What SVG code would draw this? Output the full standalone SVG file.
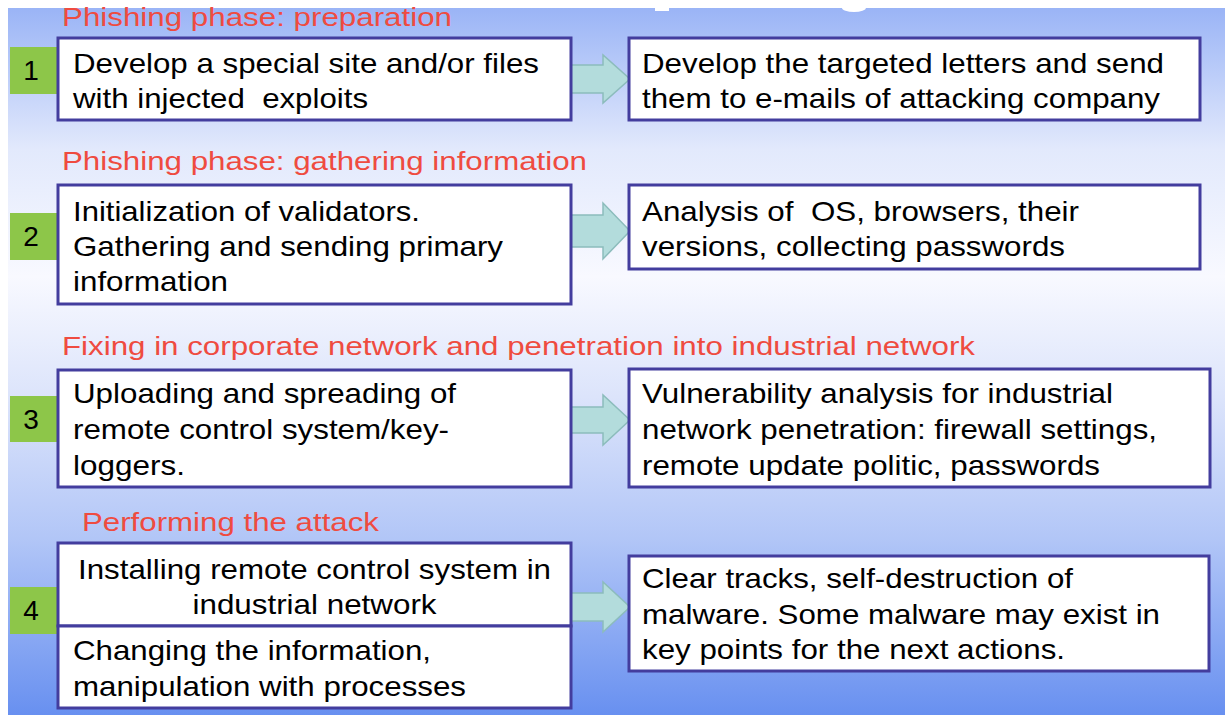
<svg xmlns="http://www.w3.org/2000/svg" width="1225" height="715" viewBox="0 0 1225 715">
<defs>
<linearGradient id="bg" x1="0" y1="0" x2="0" y2="1">
<stop offset="0" stop-color="#9ab4f6"/>
<stop offset="0.2" stop-color="#e2e9fc"/>
<stop offset="0.38" stop-color="#f8f9ff"/>
<stop offset="0.55" stop-color="#dce4fb"/>
<stop offset="0.75" stop-color="#b2c6f7"/>
<stop offset="1" stop-color="#6890f0"/>
</linearGradient>
<style>
.box{fill:#ffffff;stroke:#433d9e;stroke-width:3}
.num{fill:#8dc649}
.numt{font-family:"Liberation Sans",Arial,sans-serif;font-size:28px;fill:#000;text-anchor:middle}
.t{font-family:"Liberation Sans",Arial,sans-serif;font-size:28px;fill:#000}
.h{font-family:"Liberation Sans",Arial,sans-serif;font-size:25px;fill:#ef4b40}
.arr{fill:#b3dcdc;stroke:#8cbcbc;stroke-width:1.5}
</style>
</defs>
<rect x="0" y="0" width="1225" height="715" fill="#ffffff"/>
<rect x="8" y="8" width="1217" height="707" fill="url(#bg)"/>
<rect x="655" y="8" width="14" height="3" fill="#ffffff"/>
<ellipse cx="854" cy="8" rx="12" ry="4" fill="#ffffff"/>

<g id="headers">
<text class="h" x="62" y="26" textLength="390" lengthAdjust="spacingAndGlyphs">Phishing phase: preparation</text>
<text class="h" x="62" y="170" textLength="525" lengthAdjust="spacingAndGlyphs">Phishing phase: gathering information</text>
<text class="h" x="62" y="355" textLength="913" lengthAdjust="spacingAndGlyphs">Fixing in corporate network and penetration into industrial network</text>
<text class="h" x="82" y="531" textLength="297" lengthAdjust="spacingAndGlyphs">Performing the attack</text>
</g>

<g id="connectors">
<path class="arr" d="M571,65 H603 V55 L630,79 L603,103 V93 H571 Z"/>
<path class="arr" d="M571,215 H603 V203 L630,231 L603,259 V247 H571 Z"/>
<path class="arr" d="M571,407 H603 V395 L630,420 L603,445 V433 H571 Z"/>
<path class="arr" d="M571,593 H603 V582 L630,607 L603,632 V621 H571 Z"/>
</g>

<g id="step1">
<rect class="num" x="10" y="47" width="48" height="47"/>
<text class="numt" x="31" y="80">1</text>
</g>
<g id="step2">
<rect class="num" x="10" y="213" width="48" height="47"/>
<text class="numt" x="31" y="246">2</text>
</g>
<g id="step3">
<rect class="num" x="10" y="396" width="48" height="46"/>
<text class="numt" x="31" y="429">3</text>
</g>
<g id="step4">
<rect class="num" x="10" y="587" width="48" height="47"/>
<text class="numt" x="31" y="620">4</text>
</g>

<g id="node1a">
<rect class="box" x="58" y="38" width="513" height="82"/>
<text class="t" x="73" y="73" textLength="466" lengthAdjust="spacingAndGlyphs">Develop a special site and/or files</text>
<text class="t" x="73" y="108" textLength="295" lengthAdjust="spacingAndGlyphs" xml:space="preserve">with injected  exploits</text>
</g>
<g id="node1b">
<rect class="box" x="629" y="38" width="571" height="82"/>
<text class="t" x="642" y="73" textLength="522" lengthAdjust="spacingAndGlyphs">Develop the targeted letters and send</text>
<text class="t" x="642" y="108" textLength="518" lengthAdjust="spacingAndGlyphs">them to e-mails of attacking company</text>
</g>

<g id="node2a">
<rect class="box" x="58" y="185" width="513" height="119"/>
<text class="t" x="73" y="221" textLength="347" lengthAdjust="spacingAndGlyphs">Initialization of validators.</text>
<text class="t" x="73" y="256" textLength="430" lengthAdjust="spacingAndGlyphs">Gathering and sending primary</text>
<text class="t" x="73" y="291" textLength="155" lengthAdjust="spacingAndGlyphs">information</text>
</g>
<g id="node2b">
<rect class="box" x="629" y="185" width="571" height="84"/>
<text class="t" x="642" y="221" textLength="437" lengthAdjust="spacingAndGlyphs" xml:space="preserve">Analysis of  OS, browsers, their</text>
<text class="t" x="642" y="256" textLength="423" lengthAdjust="spacingAndGlyphs">versions, collecting passwords</text>
</g>

<g id="node3a">
<rect class="box" x="58" y="370" width="513" height="117"/>
<text class="t" x="73" y="403" textLength="383" lengthAdjust="spacingAndGlyphs">Uploading and spreading of</text>
<text class="t" x="73" y="439" textLength="376" lengthAdjust="spacingAndGlyphs">remote control system/key-</text>
<text class="t" x="73" y="475" textLength="112" lengthAdjust="spacingAndGlyphs">loggers.</text>
</g>
<g id="node3b">
<rect class="box" x="629" y="369" width="581" height="118"/>
<text class="t" x="642" y="403" textLength="471" lengthAdjust="spacingAndGlyphs">Vulnerability analysis for industrial</text>
<text class="t" x="642" y="439" textLength="515" lengthAdjust="spacingAndGlyphs">network penetration: firewall settings,</text>
<text class="t" x="642" y="475" textLength="458" lengthAdjust="spacingAndGlyphs">remote update politic, passwords</text>
</g>

<g id="node4a">
<rect class="box" x="58" y="543" width="513" height="83"/>
<text class="t" x="314.5" y="579" text-anchor="middle" textLength="473" lengthAdjust="spacingAndGlyphs">Installing remote control system in</text>
<text class="t" x="314.5" y="614" text-anchor="middle" textLength="244" lengthAdjust="spacingAndGlyphs">industrial network</text>
</g>
<g id="node4b">
<rect class="box" x="58" y="626" width="513" height="82"/>
<text class="t" x="73" y="660" textLength="358" lengthAdjust="spacingAndGlyphs">Changing the information,</text>
<text class="t" x="73" y="696" textLength="393" lengthAdjust="spacingAndGlyphs">manipulation with processes</text>
</g>
<g id="node4c">
<rect class="box" x="629" y="556" width="580" height="115"/>
<text class="t" x="642" y="588" textLength="431" lengthAdjust="spacingAndGlyphs">Clear tracks, self-destruction of</text>
<text class="t" x="642" y="624" textLength="518" lengthAdjust="spacingAndGlyphs">malware. Some malware may exist in</text>
<text class="t" x="642" y="659" textLength="423" lengthAdjust="spacingAndGlyphs">key points for the next actions.</text>
</g>
</svg>
